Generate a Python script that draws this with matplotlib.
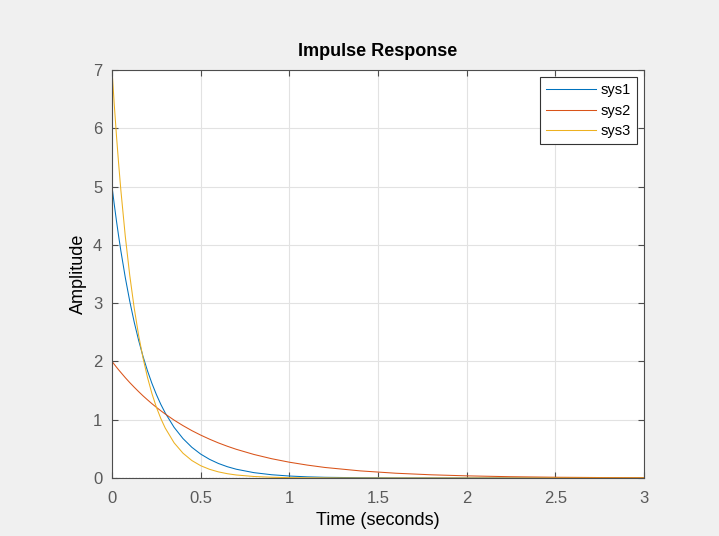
import matplotlib
matplotlib.use("Agg")
import matplotlib.pyplot as plt

plt.rcParams["font.family"] = ["Liberation Sans", "DejaVu Sans"]

# impulse response samples
t = [0, 0.0125, 0.025, 0.0375, 0.05, 0.075, 0.1, 0.125, 0.15, 0.175, 0.2, 0.225,
     0.25, 0.275, 0.3, 0.35, 0.4, 0.45, 0.5, 0.55, 0.6, 0.65, 0.7, 0.8, 0.9, 1.0,
     1.1, 1.2, 1.4, 1.6, 1.8, 2.0, 2.25, 2.5, 2.75, 3.0]
sys1 = [5.000, 4.697, 4.412, 4.145, 3.894, 3.436, 3.033, 2.676, 2.362, 2.084, 1.839,
        1.623, 1.433, 1.264, 1.116, 0.869, 0.677, 0.527, 0.410, 0.320, 0.249, 0.194,
        0.151, 0.092, 0.056, 0.034, 0.020, 0.012, 0.005, 0.002, 0.001, 0, 0, 0, 0, 0]
sys2 = [2.000, 1.951, 1.902, 1.855, 1.810, 1.721, 1.637, 1.558, 1.482, 1.409, 1.341,
        1.275, 1.213, 1.154, 1.098, 0.993, 0.899, 0.813, 0.736, 0.666, 0.602, 0.545,
        0.493, 0.404, 0.331, 0.271, 0.222, 0.181, 0.122, 0.082, 0.055, 0.037, 0.022,
        0.013, 0.008, 0.005]
sys3 = [7.000, 6.414, 5.876, 5.384, 4.933, 4.141, 3.476, 2.918, 2.449, 2.056, 1.726,
        1.449, 1.216, 1.021, 0.857, 0.604, 0.426, 0.300, 0.211, 0.149, 0.105, 0.074,
        0.052, 0.026, 0.013, 0.006, 0.003, 0.002, 0, 0, 0, 0, 0, 0, 0, 0]
names = ["sys1", "sys2", "sys3"]
colors = ["#0072BD", "#D95319", "#EDB120"]
xticks = [0, 0.5, 1, 1.5, 2, 2.5, 3]
xticklabels = ["0", "0.5", "1", "1.5", "2", "2.5", "3"]

fig = plt.figure(figsize=(7.19, 5.36), dpi=100, facecolor="#F0F0F0")
ax = fig.add_axes([0.1558, 0.1082, 0.74, 0.7612])

for y, name, c in zip([sys1, sys2, sys3], names, colors):
    ax.plot(t, y, color=c, lw=0.75, label=name)
ax.axhline(0, color="black", lw=0.8, ls=(0, (1, 2)), zorder=1)

ax.set_xlim(0, 3)
ax.set_ylim(0, 7)
ax.set_xticks(xticks)
ax.set_xticklabels(xticklabels)
ax.set_yticks(range(8))
ax.grid(True, color="#E2E2E2", lw=0.8)
ax.tick_params(direction="in", top=True, right=True, labelsize=12,
               colors="#4D4D4D", labelcolor="#5A5A5A", length=4)
ax.tick_params(axis="x", pad=9)
ax.tick_params(axis="y", pad=7)
for s in ax.spines.values():
    s.set_color("#4D4D4D")
    s.set_linewidth(0.8)

ax.set_title("Impulse Response", fontsize=13, fontweight="bold", pad=10)
ax.set_xlabel("Time (seconds)", fontsize=13, labelpad=5)
ax.set_ylabel("Amplitude", fontsize=13, labelpad=4)

leg = ax.legend(loc="upper right", fontsize=10.5, fancybox=False, framealpha=1,
                edgecolor="#333333", borderaxespad=0.5, handlelength=3.4,
                handletextpad=0.35, borderpad=0.4, labelspacing=0.45)
leg.get_frame().set_linewidth(0.8)

fig.savefig("out.png", dpi=100, facecolor=fig.get_facecolor())
